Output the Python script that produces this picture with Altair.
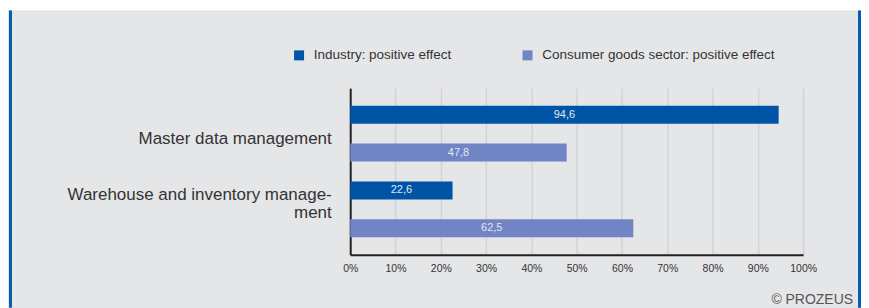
import altair as alt
import pandas as pd

categories = ["Master data management", "Warehouse and inventory manage-|ment"]
series = ["Industry: positive effect", "Consumer goods sector: positive effect"]
industry = [94.6, 22.6]
consumer = [47.8, 62.5]
colors = ["#0054a6", "#7184c4"]
x_ticks = list(range(0, 101, 10))
credit = ["© PROZEUS"]

rows = []
for i, c in enumerate(categories):
    for s, vals in zip(series, [industry, consumer]):
        v = vals[i]
        rows.append({"category": c, "series": s, "value": v,
                     "label": f"{v:.1f}".replace(".", ",")})
df = pd.DataFrame(rows)

FONT = "Liberation Sans"

y_enc = alt.Y("category:N", sort=categories,
              scale=alt.Scale(paddingInner=0, paddingOuter=0.1),
              axis=alt.Axis(title=None, labelExpr="split(datum.label, '|')",
                            labelFontSize=17, labelColor="#333333", labelFont=FONT,
                            labelLineHeight=18, labelPadding=19, labelLimit=400,
                            labelOffset={"condition": {"test": "datum.value == '%s'" % categories[0],
                                                       "value": 5},
                                         "value": -14},
                            ticks=False, domainColor="#222222", domainWidth=2))
yoff = alt.YOffset("series:N", sort=series,
                   scale=alt.Scale(paddingInner=0.526, paddingOuter=0.263))

base = alt.Chart(df)

bars = base.mark_bar().encode(
    y=y_enc,
    yOffset=yoff,
    x=alt.X("value:Q", scale=alt.Scale(domain=[0, 100]),
            axis=alt.Axis(title=None, values=x_ticks, labelExpr="datum.value + '%'",
                          labelFontSize=10.5, labelColor="#333333", labelFont=FONT,
                          labelFlush=False, labelOverlap=False,
                          ticks=False, labelPadding=9, grid=True, gridColor="#d2d3d5",
                          gridWidth=1.5, domainColor="#222222", domainWidth=2)),
    color=alt.Color("series:N", sort=series,
                    scale=alt.Scale(domain=series, range=colors),
                    legend=alt.Legend(title=None, orient="none", legendX=-58, legendY=-40,
                                      direction="horizontal", symbolType="square",
                                      symbolSize=100, symbolStrokeWidth=0,
                                      labelFontSize=13.5, labelColor="#333333",
                                      labelFont=FONT, labelOffset=8, labelLimit=400,
                                      columnPadding=69, padding=0)),
)

texts = base.transform_calculate(mid="datum.value / 2").mark_text(
    color="#e3e8f3", fontSize=11, font=FONT, baseline="middle", align="center"
).encode(
    y=alt.Y("category:N", sort=categories),
    yOffset=yoff,
    x=alt.X("mid:Q"),
    text="label:N",
)

border_df = pd.DataFrame({"a": [0]})
left_border = alt.Chart(border_df).mark_rule(color="#0a5bb0", strokeWidth=3).encode(
    x=alt.value(-340.5), y=alt.value(-78), y2=alt.value(220))
right_border = alt.Chart(border_df).mark_rule(color="#0a5bb0", strokeWidth=3).encode(
    x=alt.value(510.5), y=alt.value(-78), y2=alt.value(220))
top_strip = alt.Chart(border_df).mark_rule(color="#ffffff", strokeWidth=2).encode(
    x=alt.value(-343), x2=alt.value(512), y=alt.value(-79))

credit_text = alt.Chart(pd.DataFrame({"t": credit})).mark_text(
    align="right", baseline="middle", fontSize=14, font=FONT, color="#555555"
).encode(x=alt.value(504), y=alt.value(212), text="t:N")

chart = alt.layer(bars, texts, left_border, right_border, top_strip, credit_text).properties(
    width=454, height=167,
    padding={"left": 343, "top": 80, "right": 58, "bottom": 53},
    autosize=alt.AutoSizeParams(type="none"),
    background="#e5e6e8",
).configure_view(stroke=None)

chart.save("out.html", embed_options={"renderer": "svg", "actions": False})
